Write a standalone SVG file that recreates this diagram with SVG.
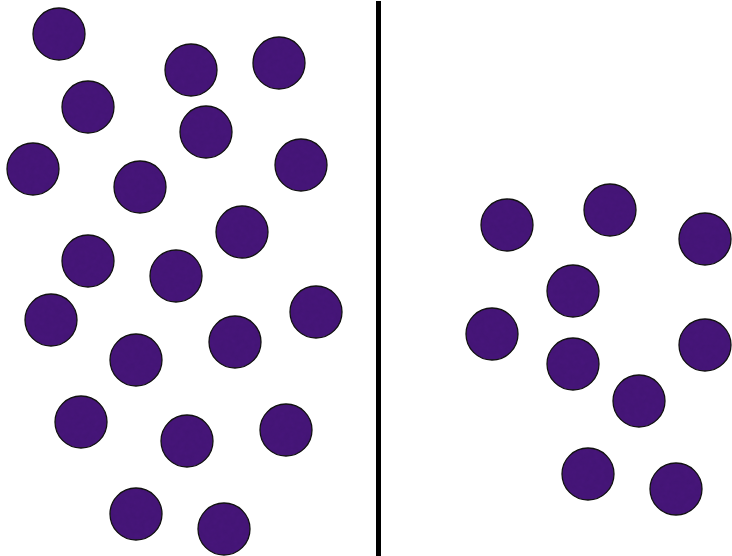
<svg xmlns="http://www.w3.org/2000/svg" width="732" height="556" viewBox="0 0 732 556">
<defs>
<filter id="tex" x="-10%" y="-10%" width="120%" height="120%" color-interpolation-filters="sRGB">
<feTurbulence type="fractalNoise" baseFrequency="0.2" numOctaves="2" seed="3" result="n"/>
<feColorMatrix in="n" type="matrix" values="0 0 0 0 0.33  0 0 0 0 0.1  0 0 0 0 0.55  0 0 0 0.35 -0.1" result="c"/>
<feComposite in="c" in2="SourceGraphic" operator="in" result="t"/>
<feMerge><feMergeNode in="SourceGraphic"/><feMergeNode in="t"/></feMerge>
</filter>
<style>
.b{fill:#441576}
.o{fill:none;stroke:#111;stroke-width:1.3}
g.balls{filter:url(#tex)}
</style>
</defs>
<rect width="732" height="556" fill="#fff"/>
<g id="divider"><line x1="378.5" y1="1" x2="378.5" y2="556" stroke="#000" stroke-width="5"/></g>
<g id="left">
<g class="balls">
<circle class="b" cx="59" cy="34" r="26"/>
<circle class="b" cx="191" cy="70" r="26"/>
<circle class="b" cx="279" cy="63" r="26"/>
<circle class="b" cx="88" cy="107" r="26"/>
<circle class="b" cx="206" cy="132" r="26"/>
<circle class="b" cx="33" cy="169" r="26"/>
<circle class="b" cx="140" cy="187" r="26"/>
<circle class="b" cx="301" cy="165" r="26"/>
<circle class="b" cx="242" cy="232" r="26"/>
<circle class="b" cx="88" cy="261" r="26"/>
<circle class="b" cx="176" cy="276" r="26"/>
<circle class="b" cx="51" cy="320" r="26"/>
<circle class="b" cx="316" cy="312" r="26"/>
<circle class="b" cx="136" cy="360" r="26"/>
<circle class="b" cx="235" cy="342" r="26"/>
<circle class="b" cx="81" cy="422" r="26"/>
<circle class="b" cx="187" cy="441" r="26"/>
<circle class="b" cx="286" cy="430" r="26"/>
<circle class="b" cx="136" cy="514" r="26"/>
<circle class="b" cx="224" cy="529" r="26"/>
</g>
<g>
<circle class="o" cx="59" cy="34" r="26"/>
<circle class="o" cx="191" cy="70" r="26"/>
<circle class="o" cx="279" cy="63" r="26"/>
<circle class="o" cx="88" cy="107" r="26"/>
<circle class="o" cx="206" cy="132" r="26"/>
<circle class="o" cx="33" cy="169" r="26"/>
<circle class="o" cx="140" cy="187" r="26"/>
<circle class="o" cx="301" cy="165" r="26"/>
<circle class="o" cx="242" cy="232" r="26"/>
<circle class="o" cx="88" cy="261" r="26"/>
<circle class="o" cx="176" cy="276" r="26"/>
<circle class="o" cx="51" cy="320" r="26"/>
<circle class="o" cx="316" cy="312" r="26"/>
<circle class="o" cx="136" cy="360" r="26"/>
<circle class="o" cx="235" cy="342" r="26"/>
<circle class="o" cx="81" cy="422" r="26"/>
<circle class="o" cx="187" cy="441" r="26"/>
<circle class="o" cx="286" cy="430" r="26"/>
<circle class="o" cx="136" cy="514" r="26"/>
<circle class="o" cx="224" cy="529" r="26"/>
</g>
</g>
<g id="right">
<g class="balls">
<circle class="b" cx="507" cy="225" r="26"/>
<circle class="b" cx="610" cy="210" r="26"/>
<circle class="b" cx="705" cy="239" r="26"/>
<circle class="b" cx="573" cy="291" r="26"/>
<circle class="b" cx="492" cy="334" r="26"/>
<circle class="b" cx="573" cy="364" r="26"/>
<circle class="b" cx="705" cy="345" r="26"/>
<circle class="b" cx="639" cy="401" r="26"/>
<circle class="b" cx="588" cy="474" r="26"/>
<circle class="b" cx="676" cy="489" r="26"/>
</g>
<g>
<circle class="o" cx="507" cy="225" r="26"/>
<circle class="o" cx="610" cy="210" r="26"/>
<circle class="o" cx="705" cy="239" r="26"/>
<circle class="o" cx="573" cy="291" r="26"/>
<circle class="o" cx="492" cy="334" r="26"/>
<circle class="o" cx="573" cy="364" r="26"/>
<circle class="o" cx="705" cy="345" r="26"/>
<circle class="o" cx="639" cy="401" r="26"/>
<circle class="o" cx="588" cy="474" r="26"/>
<circle class="o" cx="676" cy="489" r="26"/>
</g>
</g>
</svg>
